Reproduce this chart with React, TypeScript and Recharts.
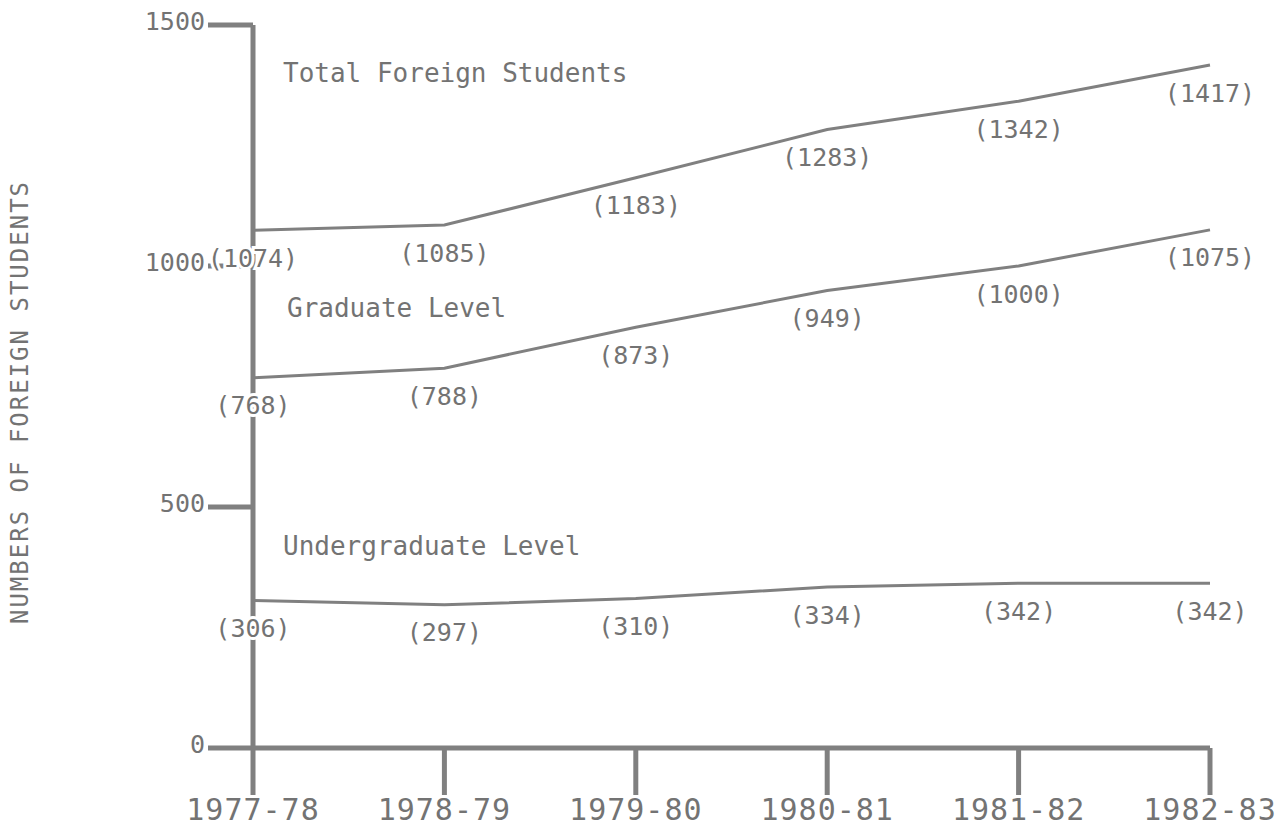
import React from 'react';
import {
  LineChart,
  Line,
  XAxis,
  YAxis,
  LabelList,
  Customized,
} from 'recharts';

const years = ['1977-78', '1978-79', '1979-80', '1980-81', '1981-82', '1982-83'];
const totalStudents = [1074, 1085, 1183, 1283, 1342, 1417];
const graduateStudents = [768, 788, 873, 949, 1000, 1075];
const undergraduateStudents = [306, 297, 310, 334, 342, 342];
const yTicks = [0, 500, 1000, 1500];

const data = years.map((year, i) => ({
  year,
  total: totalStudents[i],
  graduate: graduateStudents[i],
  undergraduate: undergraduateStudents[i],
}));

const GRAY = '#808080';
const TEXT = '#737373';
const FONT = '"DejaVu Sans Mono", "Liberation Mono", monospace';

const ValueLabel = (props: any) => {
  const { x, y, value } = props;
  return (
    <text
      x={x}
      y={y + 28}
      textAnchor="middle"
      dominantBaseline="central"
      fontFamily={FONT}
      fontSize={25}
      fill={TEXT}
      stroke="#fff"
      strokeWidth={6}
      paintOrder="stroke"
    >
      {`(${value})`}
    </text>
  );
};

const Annotations = () => (
  <g fontFamily={FONT} fill={TEXT}>
    <text x={283} y={82} fontSize={26}>Total Foreign Students</text>
    <text x={287} y={317} fontSize={26}>Graduate Level</text>
    <text x={283} y={555} fontSize={26}>Undergraduate Level</text>
    <text
      x={20}
      y={402}
      fontSize={24}
      letterSpacing={2}
      textAnchor="middle"
      dominantBaseline="central"
      transform="rotate(-90 20 402)"
    >
      NUMBERS OF FOREIGN STUDENTS
    </text>
  </g>
);

const App: React.FC = () => {
  return (
    <div style={{ position: 'absolute', left: 0, top: 0, background: '#fff' }}>
      <LineChart
        width={1282}
        height={838}
        data={data}
        margin={{ top: 25, right: 72, left: 0, bottom: 0 }}
      >
        <XAxis
          dataKey="year"
          scale="point"
          padding={{ left: 0, right: 0 }}
          axisLine={{ stroke: GRAY, strokeWidth: 5 }}
          tickLine={{ stroke: GRAY, strokeWidth: 5 }}
          tickSize={47}
          tickMargin={4}
          tick={{ fontFamily: FONT, fontSize: 30, fill: TEXT, letterSpacing: 1 }}
          height={90}
        />
        <YAxis
          domain={[0, 1500]}
          ticks={yTicks}
          width={253}
          axisLine={{ stroke: GRAY, strokeWidth: 5 }}
          tickLine={{ stroke: GRAY, strokeWidth: 5 }}
          tickSize={45}
          tickMargin={3}
          tick={{ fontFamily: FONT, fontSize: 25, fill: TEXT, dy: -4 }}
        />
        <Customized component={<Annotations />} />
        <Line
          type="linear"
          dataKey="total"
          stroke={GRAY}
          strokeWidth={3}
          dot={false}
          isAnimationActive={false}
        >
          <LabelList dataKey="total" content={<ValueLabel />} />
        </Line>
        <Line
          type="linear"
          dataKey="graduate"
          stroke={GRAY}
          strokeWidth={3}
          dot={false}
          isAnimationActive={false}
        >
          <LabelList dataKey="graduate" content={<ValueLabel />} />
        </Line>
        <Line
          type="linear"
          dataKey="undergraduate"
          stroke={GRAY}
          strokeWidth={3}
          dot={false}
          isAnimationActive={false}
        >
          <LabelList dataKey="undergraduate" content={<ValueLabel />} />
        </Line>
      </LineChart>
    </div>
  );
};

export default App;
